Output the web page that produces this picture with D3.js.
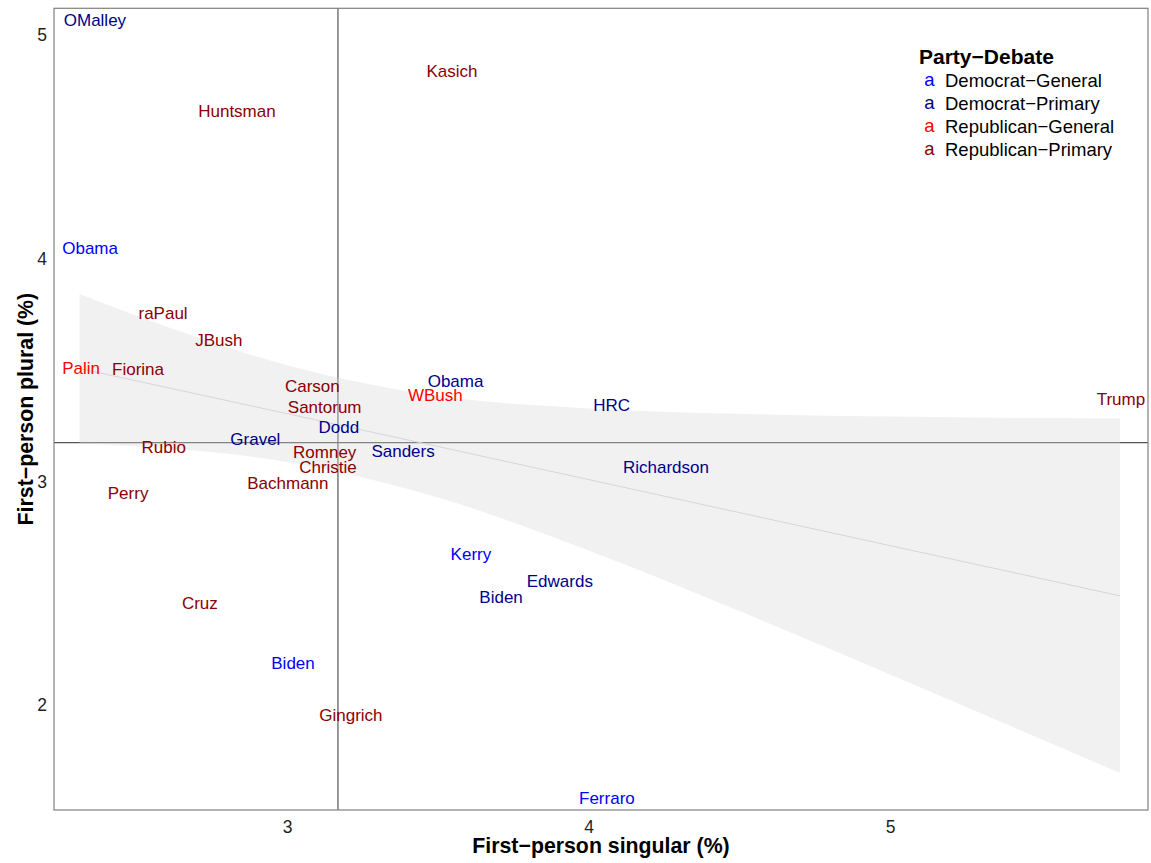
<!DOCTYPE html>
<html><head><meta charset="utf-8">
<script src="https://cdn.jsdelivr.net/npm/d3@7"></script>
<style>
html,body{margin:0;padding:0;background:#fff;}
text{font-family:"Liberation Sans",Arial,Helvetica,sans-serif;}
</style></head>
<body><svg id="chart" width="1151" height="863"></svg>
<script>
// ---- data ----
const names = ["OMalley","Kasich","Huntsman","Obama","raPaul","JBush","Palin","Fiorina","Carson","Santorum","Obama","WBush","HRC","Trump","Dodd","Gravel","Rubio","Sanders","Romney","Christie","Richardson","Bachmann","Perry","Kerry","Edwards","Biden","Cruz","Biden","Gingrich","Ferraro"];
const singular = [2.363,3.547,2.834,2.347,2.589,2.774,2.317,2.506,3.084,3.125,3.559,3.492,4.077,5.766,3.172,2.895,2.591,3.385,3.125,3.136,4.257,3.003,2.473,3.610,3.905,3.710,2.711,3.020,3.212,4.061];
const plural = [5.063,4.834,4.655,4.040,3.749,3.632,3.507,3.502,3.426,3.332,3.448,3.386,3.341,3.368,3.242,3.188,3.152,3.135,3.130,3.063,3.063,2.991,2.946,2.673,2.552,2.480,2.453,2.184,1.951,1.578];
const partyDebate = ["Democrat−Primary","Republican−Primary","Republican−Primary","Democrat−General","Republican−Primary","Republican−Primary","Republican−General","Republican−Primary","Republican−Primary","Republican−Primary","Democrat−Primary","Republican−General","Democrat−Primary","Republican−Primary","Democrat−Primary","Democrat−Primary","Republican−Primary","Democrat−Primary","Republican−Primary","Republican−Primary","Democrat−Primary","Republican−Primary","Republican−Primary","Democrat−General","Democrat−Primary","Democrat−Primary","Republican−Primary","Democrat−General","Republican−Primary","Democrat−General"];
const groupNames = ["Democrat−General","Democrat−Primary","Republican−General","Republican−Primary"];
const groupColors = ["#0000ff","#00008b","#ff0000","#8b0000"];
// smooth (linear fit with confidence band)
const smoothX = [2.3118,2.5,3.0,3.5,4.0,4.5,5.0,5.5,5.7628];
const smoothFit = [3.511,3.456,3.309,3.162,3.014,2.866,2.718,2.571,2.493];
const smoothLo = [3.177,3.163,3.093,2.934,2.696,2.425,2.141,1.852,1.700];
const smoothHi = [3.845,3.748,3.526,3.389,3.332,3.308,3.296,3.289,3.287];
// reference lines
const refX = 3.169;
const refY = 3.179;
const xTicks = [3,4,5];
const yTicks = [2,3,4,5];

// ---- layout ----
const L = 54, R = 1148, T = 8.3, B = 810;
const x = d3.scaleLinear().domain([2.2272, 5.8557]).range([L, R]);
const y = d3.scaleLinear().domain([1.5343, 5.124]).range([B, T]);
const color = d3.scaleOrdinal().domain(groupNames).range(groupColors);
const svg = d3.select("#chart");

// reference lines (under ribbon)
svg.append("line").attr("x1", L).attr("x2", R).attr("y1", y(refY)).attr("y2", y(refY))
  .attr("stroke", "#555").attr("stroke-width", 1.2);
svg.append("line").attr("x1", x(refX)).attr("x2", x(refX)).attr("y1", T).attr("y2", B)
  .attr("stroke", "#555").attr("stroke-width", 1.2);

// ribbon
const band = smoothX.map((v, i) => ({x: v, lo: smoothLo[i], hi: smoothHi[i], fit: smoothFit[i]}));
svg.append("path").datum(band)
  .attr("d", d3.area().x(d => x(d.x)).y0(d => y(d.lo)).y1(d => y(d.hi)).curve(d3.curveMonotoneX))
  .attr("fill", "#d9d9d9").attr("fill-opacity", 0.36);
svg.append("path").datum(band)
  .attr("d", d3.line().x(d => x(d.x)).y(d => y(d.fit)))
  .attr("fill", "none").attr("stroke", "#d6d6d6").attr("stroke-width", 1);

// labels
const pts = names.map((n, i) => ({n, sx: singular[i], py: plural[i], g: partyDebate[i]}));
svg.append("g").selectAll("text").data(pts).join("text")
  .attr("x", d => x(d.sx)).attr("y", d => y(d.py)).attr("dy", "0.24em")
  .attr("text-anchor", "middle").attr("font-size", 17)
  .attr("fill", d => color(d.g)).text(d => d.n);

// panel border
svg.append("rect").attr("x", L).attr("y", T).attr("width", R - L).attr("height", B - T)
  .attr("fill", "none").attr("stroke", "#808080").attr("stroke-width", 1.2);

// axes
const xa = svg.append("g").attr("transform", `translate(0,${B})`)
  .call(d3.axisBottom(x).tickValues(xTicks).tickSize(0).tickPadding(11).tickFormat(d3.format("d")));
const ya = svg.append("g").attr("transform", `translate(${L},0)`)
  .call(d3.axisLeft(y).tickValues(yTicks).tickSize(0).tickPadding(7).tickFormat(d3.format("d")));
[xa, ya].forEach(a => {
  a.select(".domain").remove();
  a.selectAll("text").attr("font-size", 17.5).attr("fill", "#1f1f1f")
    .attr("font-family", "'Liberation Sans',Arial,sans-serif");
});
ya.selectAll("text").attr("dy", "0.28em");

// axis titles
svg.append("text").attr("x", (L + R) / 2).attr("y", 846).attr("dy", "0.33em")
  .attr("text-anchor", "middle").attr("font-size", 21.3).attr("font-weight", "bold")
  .text("First−person singular (%)");
svg.append("text").attr("transform", `translate(25,${(T + B) / 2}) rotate(-90)`).attr("dy", "0.36em")
  .attr("text-anchor", "middle").attr("font-size", 21.3).attr("font-weight", "bold")
  .text("First−person plural (%)");

// legend
const lg = svg.append("g");
lg.append("text").attr("x", 919).attr("y", 56).attr("dy", "0.36em")
  .attr("font-size", 21).attr("font-weight", "bold").text("Party−Debate");
const items = lg.selectAll("g.item").data(groupNames).join("g")
  .attr("transform", (d, i) => `translate(0,${80.3 + i * 22.9})`);
items.append("text").attr("x", 929.5).attr("y", 0).attr("dy", "0.3em").attr("text-anchor", "middle")
  .attr("font-size", 18.5).attr("fill", d => color(d)).text("a");
items.append("text").attr("x", 945).attr("y", 0).attr("dy", "0.36em")
  .attr("font-size", 18.5).attr("fill", "#000").text(d => d);
</script></body></html>
